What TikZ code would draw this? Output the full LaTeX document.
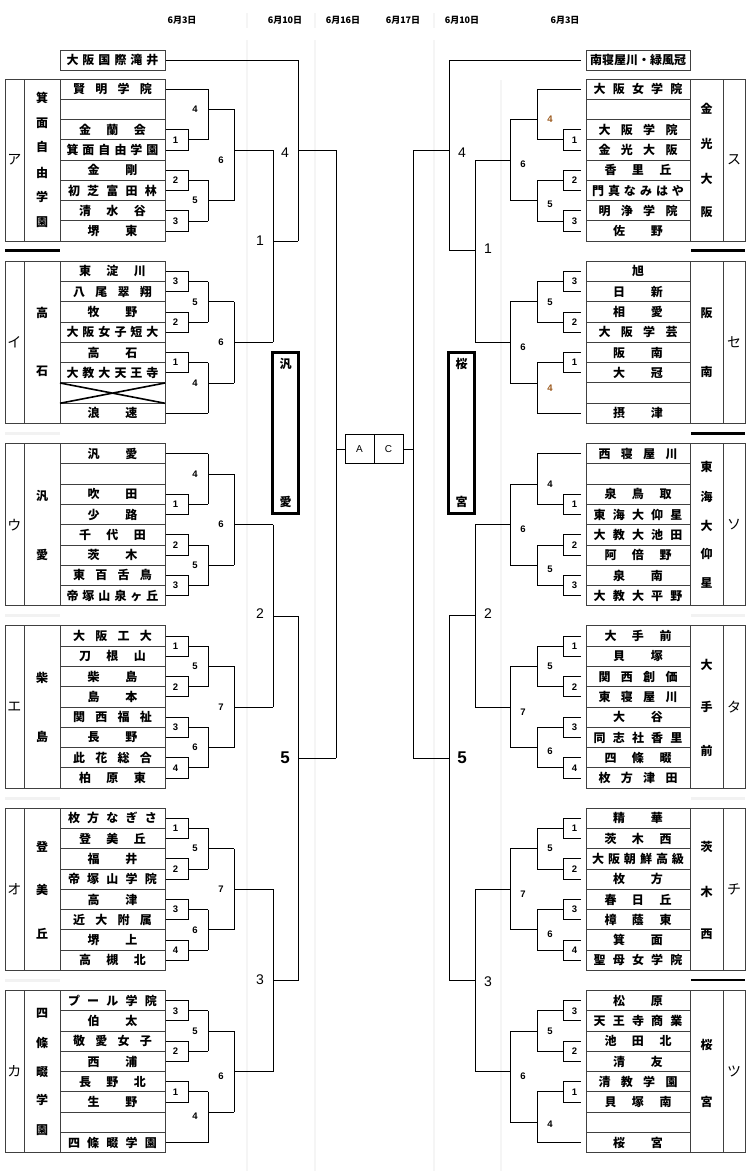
\documentclass[tikz,border=0pt]{standalone}
\usepackage{fontspec}
\newfontfamily\jp{Noto Sans CJK JP}
\newfontfamily\ar{Liberation Sans}
\definecolor{brn}{HTML}{9C5A1E}
\makeatletter
\newcount\tmcnt
\newcommand\tm[1]{{\jp\bfseries\fontsize{12}{12}\selectfont
 \if\relax\detokenize{#1}\relax\else
 \tmcnt=0 \@tfor\tmch:=#1\do{\advance\tmcnt by 1 }%
 \ifcase\tmcnt \def\tmw{0pt}\or\def\tmw{12pt}\or\def\tmw{50pt}\or\def\tmw{67pt}\or\def\tmw{79pt}\or\def\tmw{89pt}\else\def\tmw{92pt}\fi
 \hbox to \tmw{\let\tmsep\relax\@tfor\tmch:=#1\do{\tmsep\tmch\def\tmsep{\hfill}}}\fi}}
\makeatother
\newcommand\cy[1]{\T+20.28*(#1-0.5)}
% left bracket pieces
\newcommand\LM[2]{\draw[br] (166,{\cy{#1}}) -- (188,{\cy{#1}}) -- (188,{\cy{#1+1}}) -- (166,{\cy{#1+1}});
 \draw[br] (188,{\cy{#1+0.5}}) -- (208,{\cy{#1+0.5}});
 \node[lab] at (175.5,{\cy{#1+0.5}}) {#2};}
\newcommand\LS[1]{\draw[br] (166,{\cy{#1}}) -- (208,{\cy{#1}});}
\newcommand\LT[5]{\draw[br] (208,{\cy{#1}}) -- (208,{\cy{#2}}); \draw[br] (208,{\cy{#3}}) -- (234,{\cy{#3}}); \node[lab] at (195,{\cy{#3}+#5}) {#4};}
\newcommand\LU[5]{\draw[br] (234,{\cy{#1}}) -- (234,{\cy{#2}}); \draw[br] (234,{\cy{#3}}) -- (273,{\cy{#3}}); \node[lab] at (221,{\cy{#3}+#5}) {#4};}
% right bracket pieces
\newcommand\RM[2]{\draw[br] (581,{\cy{#1}}) -- (563,{\cy{#1}}) -- (563,{\cy{#1+1}}) -- (581,{\cy{#1+1}});
 \draw[br] (563,{\cy{#1+0.5}}) -- (537,{\cy{#1+0.5}});
 \node[lab] at (574.5,{\cy{#1+0.5}}) {#2};}
\newcommand\RS[1]{\draw[br] (581,{\cy{#1}}) -- (537,{\cy{#1}});}
\newcommand\RT[5]{\draw[br] (537,{\cy{#1}}) -- (537,{\cy{#2}}); \draw[br] (537,{\cy{#3}}) -- (510,{\cy{#3}}); \node[lab] at (550,{\cy{#3}+#5}) {#4};}
\newcommand\RU[5]{\draw[br] (510,{\cy{#1}}) -- (510,{\cy{#2}}); \draw[br] (510,{\cy{#3}}) -- (475,{\cy{#3}}); \node[lab] at (523,{\cy{#3}+#5}) {#4};}
% blocks
\newcommand\LBlock[4]{%
  \foreach \nm [count=\i] in {#4} {
    \node[team] (#3\i) at (112.5,{#1+20.28*(\i-0.5)}) {\expandafter\tm\expandafter{\nm}};
  }
  \draw[bx] (5,#1) rectangle (60,{#1+162.24});
  \draw[bx] (24,#1) -- (24,{#1+162.24});
  \node[kat] (#3k) at (14.5,{#1+81.12}) {#2};
}
\newcommand\RBlock[4]{%
  \foreach \nm [count=\i] in {#4} {
    \node[team,minimum width=104pt] (#3\i) at (638,{#1+20.28*(\i-0.5)}) {\expandafter\tm\expandafter{\nm}};
  }
  \draw[bx] (690,#1) rectangle (745,{#1+162.24});
  \draw[bx] (723,#1) -- (723,{#1+162.24});
  \node[kat] (#3k) at (734,{#1+81.12}) {#2};
}
\begin{document}
\begin{tikzpicture}[x=1pt,y=-1pt,
 br/.style={draw=black,line width=0.9pt},
 bx/.style={draw=black!75,line width=1pt},
 team/.style={draw=black!75,line width=1pt,minimum width=105pt,minimum height=20.28pt,inner sep=0pt,outer sep=0pt},
 lab/.style={font=\ar\bfseries\fontsize{9.5}{9.5}\selectfont,inner sep=0pt},
 big/.style={font=\ar\fontsize{14}{14}\selectfont,inner sep=0pt},
 fin/.style={font=\ar\bfseries\fontsize{17}{17}\selectfont,inner sep=0pt},
 sch/.style={font=\jp\bfseries\fontsize{12}{12}\selectfont,inner sep=0pt},
 kat/.style={font=\jp\fontsize{14}{14}\selectfont,inner sep=0pt},
 hdr/.style={font=\jp\bfseries\fontsize{9}{9}\selectfont,inner sep=0pt},
 faint/.style={draw=black!4,line width=1.5pt},
 sepk/.style={draw=black,line width=3pt},
 tall/.style={draw=black,line width=3pt,minimum width=26pt,minimum height=161pt,inner sep=0pt},
 ac/.style={draw=black,line width=0.9pt,minimum width=29pt,minimum height=29pt,inner sep=0pt,font=\ar\fontsize{10}{10}\selectfont},
]
\useasboundingbox (0,0) rectangle (750,1171);
\fill[white] (0,0) rectangle (750,1171);
% faint column guides
\foreach \xx in {247,315,434} {\draw[faint] (\xx,13) -- (\xx,28); \draw[faint] (\xx,40) -- (\xx,1171);}
\draw[faint] (501,80) -- (501,1171);
\foreach \yy in {433,615.5,798,980} {\draw[draw=black!5,line width=3pt] (5,\yy) -- (60,\yy);}
\foreach \yy in {615.5,798} {\draw[draw=black!5,line width=3pt] (691,\yy) -- (745,\yy);}
\draw[sepk] (5,250) -- (60,250);
\draw[sepk] (691,250) -- (745,250);
\draw[sepk] (691,433) -- (745,433);
\draw[draw=black,line width=2pt] (691,980) -- (745,980);
% headers
\node[hdr] (d1) at (182,20) {6月3日};
\node[hdr] (d2) at (285,20) {6月10日};
\node[hdr] (d3) at (343,20) {6月16日};
\node[hdr] (d4) at (403,20) {6月17日};
\node[hdr] (d5) at (462,20) {6月10日};
\node[hdr] (d6) at (565,20) {6月3日};
% seeded boxes
\node[team,minimum height=20.7pt] (lh) at (112.5,60.35) {\tm{大阪国際滝井}};
\node[team,minimum width=104pt,minimum height=20.7pt,font=\jp\bfseries\fontsize{12}{12}\selectfont] (rh) at (638,60.35) {南寝屋川・緑風冠};
% ===== LEFT =====
\def\T{79}
\LBlock{79}{ア}{a}{賢明学院,{},金蘭会,箕面自由学園,金剛,初芝富田林,清水谷,堺東}
\foreach \yy/\cc in {98/箕,123/面,147/自,173/由,197/学,222/園} {\node[sch] at (42,\yy) {\cc};}
\LS{1}\LM{3}{1}\LM{5}{2}\LM{7}{3}
\LT{1}{3.5}{2}{4}{0}
\LT{5.5}{7.5}{6.5}{5}{0}
\LU{2}{6.5}{4}{6}{10}
\def\T{261.3}
\LBlock{261.3}{イ}{b}{東淀川,八尾翠翔,牧野,大阪女子短大,高石,大教大天王寺,{},浪速}
\foreach \yy/\cc in {313/高,371/石} {\node[sch] at (42,\yy) {\cc};}
\draw[black,line width=1.6pt] (60,{\cy{6.5}}) -- (165,{\cy{7.5}}) (60,{\cy{7.5}}) -- (165,{\cy{6.5}});
\LM{1}{3}\LM{3}{2}\LT{1.5}{3.5}{2.5}{5}{0}
\LM{5}{1}\LS{8}\LT{5.5}{8}{6.5}{4}{0}
\LU{2.5}{6.5}{4.5}{6}{0}
\def\T{443.6}
\LBlock{443.6}{ウ}{c}{汎愛,{},吹田,少路,千代田,茨木,東百舌鳥,帝塚山泉ヶ丘}
\foreach \yy/\cc in {496/汎,555/愛} {\node[sch] at (42,\yy) {\cc};}
\LS{1}\LM{3}{1}\LM{5}{2}\LM{7}{3}
\LT{1}{3.5}{2}{4}{0}
\LT{5.5}{7.5}{6.5}{5}{0}
\LU{2}{6.5}{4.5}{6}{0}
\def\T{625.9}
\LBlock{625.9}{エ}{d}{大阪工大,刀根山,柴島,島本,関西福祉,長野,此花総合,柏原東}
\foreach \yy/\cc in {678/柴,737/島} {\node[sch] at (42,\yy) {\cc};}
\LM{1}{1}\LM{3}{2}\LM{5}{3}\LM{7}{4}
\LT{1.5}{3.5}{2.5}{5}{0}\LT{5.5}{7.5}{6.5}{6}{0}\LU{2.5}{6.5}{4.5}{7}{0}
\def\T{808.2}
\LBlock{808.2}{オ}{e}{枚方なぎさ,登美丘,福井,帝塚山学院,高津,近大附属,堺上,高槻北}
\foreach \yy/\cc in {847/登,890/美,934/丘} {\node[sch] at (42,\yy) {\cc};}
\LM{1}{1}\LM{3}{2}\LM{5}{3}\LM{7}{4}
\LT{1.5}{3.5}{2.5}{5}{0}\LT{5.5}{7.5}{6.5}{6}{0}\LU{2.5}{6.5}{4.5}{7}{0}
\def\T{990.5}
\LBlock{990.5}{カ}{f}{プール学院,伯太,敬愛女子,西浦,長野北,生野,{},四條畷学園}
\foreach \yy/\cc in {1013/四,1043/條,1072/畷,1100/学,1130/園} {\node[sch] at (42,\yy) {\cc};}
\LM{1}{3}\LM{3}{2}\LT{1.5}{3.5}{2.5}{5}{0}
\LM{5}{1}\LS{8}\LT{5.5}{8}{6.5}{4}{4}
\LU{2.5}{6.5}{4.5}{6}{5}
% left later rounds
\draw[br] (166,60.35) -- (298,60.35) -- (298,241);
\draw[br] (273,150) -- (273,342.4);
\draw[br] (273,241) -- (298,241);
\node[big] at (260,241) {1};
\node[big] at (285,153) {4};
\draw[br] (298,150) -- (336,150);
\draw[br] (273,524.7) -- (273,707);
\node[big] at (260,614) {2};
\draw[br] (273,616) -- (298,616);
\draw[br] (273,889.3) -- (273,1071.6);
\node[big] at (260,980) {3};
\draw[br] (273,980.5) -- (298,980.5);
\draw[br] (298,616) -- (298,980.5);
\node[fin] at (285,758) {5};
\draw[br] (298,758) -- (336,758);
\draw[br] (336,150) -- (336,758);
% center
\node[ac] (A) at (359.5,449) {A};
\node[ac] (C) at (388.5,449) {C};
\draw[br] (336,449) -- (A.west);
\draw[br] (413,449) -- (C.east);
% semifinal boxes
\node[tall] (lbox) at (285.5,433) {};
\node[sch] at (285.5,364) {汎};
\node[sch] at (285.5,502) {愛};
\node[tall] (rbox) at (461.5,433) {};
\node[sch] at (461.5,364) {桜};
\node[sch] at (461.5,502) {宮};
% ===== RIGHT =====
\def\T{79}
\RBlock{79}{ス}{s}{大阪女学院,{},大阪学院,金光大阪,香里丘,門真なみはや,明浄学院,佐野}
\foreach \yy/\cc in {109/金,144/光,179/大,212/阪} {\node[sch] at (706.5,\yy) {\cc};}
\RS{1}\RM{3}{1}\RM{5}{2}\RM{7}{3}
\RT{1}{3.5}{2.5}{\color{brn}4}{0}
\RT{5.5}{7.5}{6.5}{5}{4}
\RU{2.5}{6.5}{4.5}{6}{4}
\def\T{261.3}
\RBlock{261.3}{セ}{t}{旭,日新,相愛,大阪学芸,阪南,大冠,{},摂津}
\foreach \yy/\cc in {313/阪,372/南} {\node[sch] at (706.5,\yy) {\cc};}
\RM{1}{3}\RM{3}{2}\RT{1.5}{3.5}{2.5}{5}{0}
\RM{5}{1}\RS{8}\RT{5.5}{8}{6.5}{\color{brn}4}{5}
\RU{2.5}{6.5}{4.5}{6}{5}
\def\T{443.6}
\RBlock{443.6}{ソ}{u}{西寝屋川,{},泉鳥取,東海大仰星,大教大池田,阿倍野,泉南,大教大平野}
\foreach \yy/\cc in {467/東,497/海,526/大,554/仰,583/星} {\node[sch] at (706.5,\yy) {\cc};}
\RS{1}\RM{3}{1}\RM{5}{2}\RM{7}{3}
\RT{1}{3.5}{2.5}{4}{0}
\RT{5.5}{7.5}{6.5}{5}{4}
\RU{2.5}{6.5}{4.5}{6}{4}
\def\T{625.9}
\RBlock{625.9}{タ}{v}{大手前,貝塚,関西創価,東寝屋川,大谷,同志社香里,四條畷,枚方津田}
\foreach \yy/\cc in {665/大,707/手,751/前} {\node[sch] at (706.5,\yy) {\cc};}
\RM{1}{1}\RM{3}{2}\RM{5}{3}\RM{7}{4}
\RT{1.5}{3.5}{2.5}{5}{0}\RT{5.5}{7.5}{6.5}{6}{4}\RU{2.5}{6.5}{4.5}{7}{5}
\def\T{808.2}
\RBlock{808.2}{チ}{w}{精華,茨木西,大阪朝鮮高級,枚方,春日丘,樟蔭東,箕面,聖母女学院}
\foreach \yy/\cc in {847/茨,892/木,934/西} {\node[sch] at (706.5,\yy) {\cc};}
\RM{1}{1}\RM{3}{2}\RM{5}{3}\RM{7}{4}
\RT{1.5}{3.5}{2.5}{5}{0}\RT{5.5}{7.5}{6.5}{6}{4}\RU{2.5}{6.5}{4.5}{7}{5}
\def\T{990.5}
\RBlock{990.5}{ツ}{z}{松原,天王寺商業,池田北,清友,清教学園,貝塚南,{},桜宮}
\foreach \yy/\cc in {1045/桜,1102/宮} {\node[sch] at (706.5,\yy) {\cc};}
\RM{1}{3}\RM{3}{2}\RT{1.5}{3.5}{2.5}{5}{0}
\RM{5}{1}\RS{8}\RT{5.5}{8}{7}{4}{2}
\RU{2.5}{7}{4.5}{6}{5}
% right later rounds
\draw[br] (581,60.35) -- (449,60.35) -- (449,250);
\draw[br] (475,160.1) -- (475,342.4);
\draw[br] (475,250) -- (449,250);
\node[big] at (488,249) {1};
\node[big] at (462,153) {4};
\draw[br] (449,150) -- (413,150);
\draw[br] (475,524.7) -- (475,707);
\node[big] at (488,614) {2};
\draw[br] (475,615) -- (449,615);
\draw[br] (475,889.3) -- (475,1071.6);
\node[big] at (488,982) {3};
\draw[br] (475,980.5) -- (449,980.5);
\draw[br] (449,615) -- (449,980.5);
\node[fin] at (462,758) {5};
\draw[br] (449,758) -- (413,758);
\draw[br] (413,150) -- (413,758);
\end{tikzpicture}
\end{document}
